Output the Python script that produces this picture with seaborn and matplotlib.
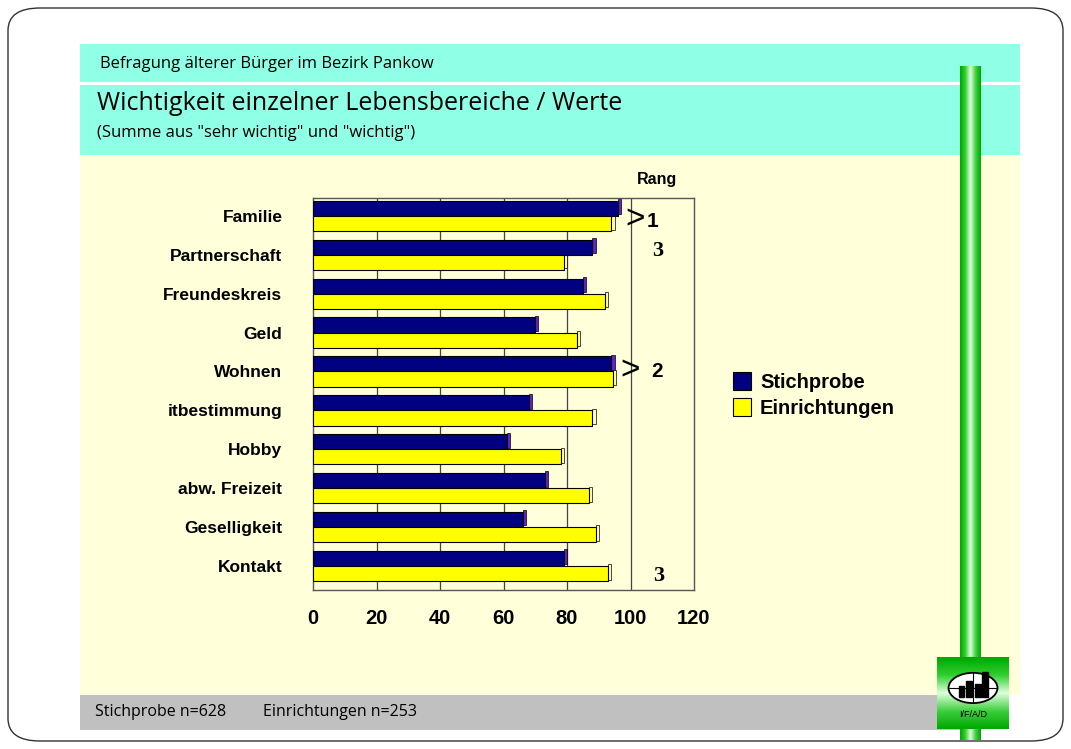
import matplotlib
matplotlib.use("Agg")
import matplotlib.pyplot as plt
from matplotlib.patches import Rectangle, FancyBboxPatch, Ellipse
import seaborn as sns
import numpy as np
import pandas as pd

# Daten
kategorien = ["Familie", "Partnerschaft", "Freundeskreis", "Geld", "Wohnen",
              "itbestimmung", "Hobby", "abw. Freizeit", "Geselligkeit", "Kontakt"]
stichprobe = [96, 88, 85, 70, 94, 68, 61, 73, 66, 79]
einrichtungen = [94, 79, 92, 83, 94.5, 88, 78, 87, 89, 93]
gruppen = ["Stichprobe", "Einrichtungen"]
farben = ["#000080", "#FFFF00"]
x_ticks = [0, 20, 40, 60, 80, 100, 120]

df = pd.DataFrame({
    "kategorie": kategorien * 2,
    "wert": stichprobe + einrichtungen,
    "gruppe": [gruppen[0]] * len(kategorien) + [gruppen[1]] * len(kategorien),
})

sns.set_style("white")
plt.rcParams["font.family"] = ["Liberation Sans", "DejaVu Sans"]
plt.rcParams["text.color"] = "black"
plt.rcParams["xtick.color"] = "black"
plt.rcParams["ytick.color"] = "black"
folie_font = ["Open Sans", "DejaVu Sans"]

W, H = 1071, 749
fig = plt.figure(figsize=(W / 100, H / 100), dpi=100)
fig.patch.set_facecolor("white")


def px(x, y, w, h):
    # Pixel-Rechteck (oben links) -> Figurkoordinaten
    return (x / W, 1 - (y + h) / H, w / W, h / H)


def rect(x, y, w, h, color, z=0, edge="none", lw=0):
    l, b, ww, hh = px(x, y, w, h)
    fig.add_artist(Rectangle((l, b), ww, hh, transform=fig.transFigure,
                             facecolor=color, edgecolor=edge, linewidth=lw, zorder=z))


# Rahmen mit runden Ecken
fig.add_artist(FancyBboxPatch((8 / W, 8 / H), 1 - 16 / W, 1 - 16 / H,
                              boxstyle="round,pad=0,rounding_size=0.03",
                              transform=fig.transFigure, facecolor="none",
                              edgecolor="#333333", linewidth=1.0, zorder=0))

# Hintergrundflaechen
rect(80, 44, 940, 38, "#8FFFE6")
rect(80, 85, 940, 70, "#8FFFE6")
rect(80, 155, 940, 540, "#FFFFD9")
rect(80, 695, 880, 35, "#C0C0C0")

fig.text(100 / W, 1 - 64 / H, "Befragung älterer Bürger im Bezirk Pankow",
         fontsize=12, family=folie_font, va="center")
fig.text(97 / W, 1 - 104 / H, "Wichtigkeit einzelner Lebensbereiche / Werte",
         fontsize=18, family=folie_font, va="center")
fig.text(97 / W, 1 - 133 / H, '(Summe aus "sehr wichtig" und "wichtig")',
         fontsize=12, family=folie_font, va="center")
fig.text(95 / W, 1 - 712 / H, "Stichprobe n=628", fontsize=11.5,
         family=folie_font, va="center")
fig.text(263 / W, 1 - 712 / H, "Einrichtungen n=253", fontsize=11.5,
         family=folie_font, va="center")

# Gruener Balken rechts
gcmap = matplotlib.colors.LinearSegmentedColormap.from_list(
    "g", ["#00A800", "#30D030", "#E0FFE0", "#40D040", "#00A800"])
ax_bar = fig.add_axes(px(960, 66, 20, 674))
ax_bar.imshow(np.tile(np.linspace(0, 1, 64), (10, 1)), cmap=gcmap, aspect="auto")
ax_bar.axis("off")

# Logo
ax_logo = fig.add_axes(px(937, 657, 72, 72))
ax_logo.imshow(np.tile(np.linspace(0, 1, 64)[:, None], (1, 10)), cmap=gcmap,
               aspect="auto", extent=(0, 1, 0, 1))
ax_logo.add_patch(Ellipse((0.5, 0.57), 0.68, 0.42, facecolor="white",
                          edgecolor="black", lw=1.3))
ax_logo.plot([0.16, 0.84], [0.57, 0.57], color="black", lw=0.8)
ax_logo.plot([0.5, 0.5], [0.36, 0.78], color="black", lw=0.8)
for bx, bh in zip([0.34, 0.44, 0.57, 0.67], [0.15, 0.22, 0.18, 0.34]):
    ax_logo.add_patch(Rectangle((bx - 0.04, 0.45), 0.08, bh, color="black"))
ax_logo.text(0.5, 0.2, "I/F/A/D", ha="center", va="center", fontsize=6.5)
ax_logo.set_xlim(0, 1)
ax_logo.set_ylim(0, 1)
ax_logo.axis("off")

# Diagramm
ax = fig.add_axes(px(313, 198, 381, 392))
ax.set_facecolor("#FFFFD9")
sns.barplot(data=df, y="kategorie", x="wert", hue="gruppe", orient="h",
            palette=farben, saturation=1, edgecolor="black", linewidth=0.8,
            width=0.78, dodge=True, legend=False, ax=ax, zorder=3)

# 3D-Seitenflaechen
for p in ax.patches:
    fc = p.get_facecolor()
    side = "#6A1FC8" if fc[0] < 0.3 else "#FFFFB0"
    ax.add_patch(Rectangle((p.get_x() + p.get_width(), p.get_y() - 0.04), 1.0,
                           p.get_height(), facecolor=side, edgecolor="black",
                           linewidth=0.5, zorder=2))

ax.set_xlim(0, 120)
ax.set_ylim(9.62, -0.46)
ax.set_xticks(x_ticks)
ax.set_xlabel("")
ax.set_ylabel("")
for xv in x_ticks[1:-1]:
    ax.axvline(xv, color="#444444", lw=0.9, zorder=1)
ax.tick_params(axis="x", length=0, pad=14, labelsize=14.5)
ax.tick_params(axis="y", length=0, pad=22, labelsize=12.5)
for lab in ax.get_xticklabels() + ax.get_yticklabels():
    lab.set_fontweight("bold")
for s in ax.spines.values():
    s.set_color("#555555")
    s.set_linewidth(1.0)

# Rang-Beschriftungen
ax.text(108.5, 1.046, "Rang", transform=ax.get_xaxis_transform(), ha="center",
        va="center", fontsize=11.5, fontweight="bold")
ax.text(101.4, 0.1, ">", ha="center", va="center", fontsize=24)
ax.text(107, 0.15, "1", ha="center", va="center", fontsize=15, fontweight="bold")
ax.text(108.5, 0.9, "3", ha="center", va="center", fontsize=16, fontweight="bold",
        family=["Liberation Serif"])
ax.text(99.8, 4.0, ">", ha="center", va="center", fontsize=24)
ax.text(108.3, 4.0, "2", ha="center", va="center", fontsize=15, fontweight="bold")
ax.text(109, 9.25, "3", ha="center", va="center", fontsize=16, fontweight="bold",
        family=["Liberation Serif"])

# Legende
for i, (g, c) in enumerate(zip(gruppen, farben)):
    rect(733, 372 + i * 26, 18, 18, c, z=5, edge="black", lw=0.8)
    fig.text(760 / W, 1 - (383 + i * 26) / H, g, fontsize=14.5, fontweight="bold",
             va="center")

fig.savefig("out.png", dpi=100)
